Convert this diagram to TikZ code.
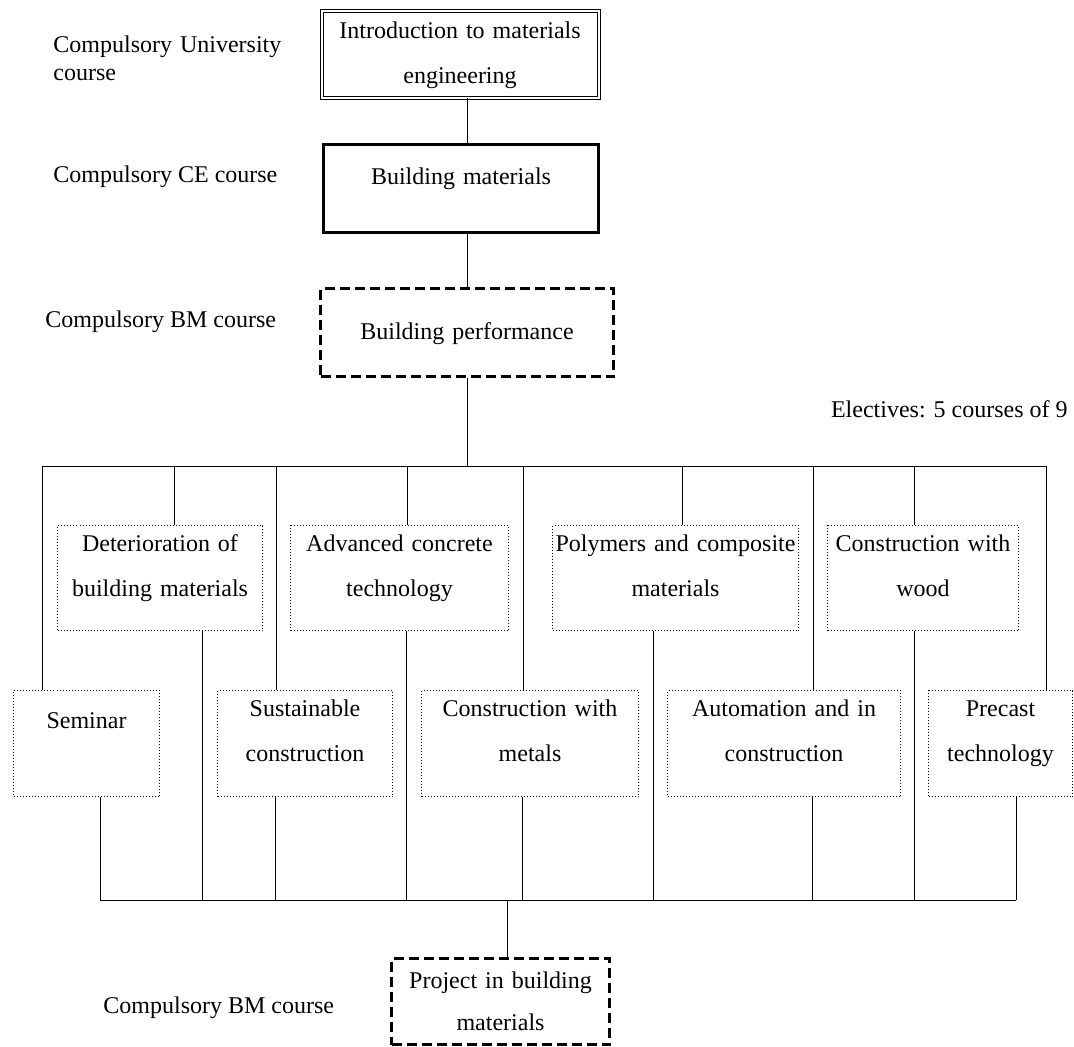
\documentclass[tikz,border=0pt]{standalone}
\usepackage{fontspec}
\setmainfont{Liberation Serif}
\usepackage{tikz}

\begin{document}
\begin{tikzpicture}[
    x=0.5pt, y=-0.5pt,
    every node/.style={font=\fontsize{12}{22.5}\selectfont},
    course/.style={draw, anchor=north west, inner xsep=0pt, inner ysep=0pt, align=center},
    univ/.style={course, double, double distance=1pt, line width=0.5pt},
    ce/.style={course, line width=1.5pt},
    bm/.style={course, line width=1.5pt, dash pattern=on 5pt off 2.5pt},
    elective/.style={course, line width=0.5pt, densely dotted, text height=13pt, text depth=39.5pt},
    tag/.style={anchor=base west, align=left, inner sep=0pt},
    link/.style={line width=0.5pt}
]
\useasboundingbox (0,0) rectangle (1074,1046);

% Compulsory courses
\node[univ, text width=138.5pt, text height=14pt, text depth=29.5pt] (intro) at (321,10) {Introduction to materials\\engineering};
\node[ce, text width=137.5pt, text height=20pt, text depth=24pt] (bm) at (322,143) {Building materials};
\node[bm, text width=146.5pt, text height=25.5pt, text depth=18.5pt] (perf) at (319,287) {Building performance};

% Labels
\node[tag, text width=120pt, font=\fontsize{12}{14}\selectfont] (univ_label) at (53,52) {Compulsory University\\course};
\node[tag] (ce_label) at (53,182) {Compulsory CE course};
\node[tag] (bm_label) at (45,327) {Compulsory BM course};
\node[anchor=base east, inner sep=0pt] (electives_label) at (1068,417) {Electives: 5 courses of 9};

% Electives, upper row
\node[elective, text width=102.5pt] (det) at (57,525) {Deterioration of\\building materials};
\node[elective, text width=109pt] (adv) at (290,525) {Advanced concrete\\technology};
\node[elective, text width=123pt] (poly) at (552,525) {Polymers and composite\\materials};
\node[elective, text width=95.5pt] (wood) at (827,525) {Construction with\\wood};

% Electives, lower row
\node[elective, text width=73pt, text height=19pt, text depth=34pt] (sem) at (13,690) {Seminar};
\node[elective, text width=87.5pt, text depth=40pt] (sus) at (217,690) {Sustainable\\construction};
\node[elective, text width=108.5pt, text depth=40pt] (met) at (421,690) {Construction with\\metals};
\node[elective, text width=116.5pt, text depth=40pt] (aut) at (667,690) {Automation and in\\construction};
\node[elective, text width=72pt, text depth=40pt] (pre) at (928,690) {Precast\\technology};

% Project
\node[bm, text width=109pt, text height=15pt, text depth=28pt, font=\fontsize{12}{21}\selectfont] (project) at (390,957) {Project in building\\materials};
\node[tag] (project_label) at (103,1013) {Compulsory BM course};

% Connections
\draw[link] (intro.south -| perf.north) -- (bm.north -| perf.north);
\draw[link] (bm.south -| perf.north) -- (perf.north);

\foreach \course/\up/\down in {sem/42/100, det/174/202, sus/276/275, adv/407/406, met/523/522,
                              poly/682/653, aut/813/812, wood/914/914, pre/1046/1016} {
    \coordinate (\course_in) at (\up,466);
    \coordinate (\course_out) at (\down,900);
    \draw[link] (\course_in) -- (\course_in |- \course.north);
    \draw[link] (\course.south -| \course_out) -- (\course_out);
}

\draw[link] (sem_in) -- (pre_in);
\draw[link] (perf.south) -- (perf.south |- sem_in);
\draw[link] (sem_out) -- (pre_out);

\coordinate (bus_out) at (507,900);
\draw[link] (bus_out) -- (bus_out |- project.north);

\end{tikzpicture}
\end{document}
